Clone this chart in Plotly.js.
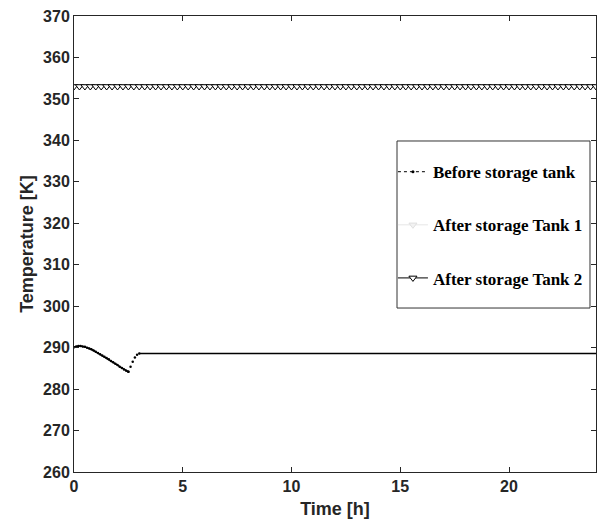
<!DOCTYPE html>
<html>
<head>
<meta charset="utf-8">
<script src="https://cdn.plot.ly/plotly-3.0.1.min.js"></script>
<style>html,body{margin:0;padding:0;background:#fff;}#chart{width:603px;height:528px;}</style>
</head>
<body>
<div id="chart"></div>
<script>
// Before storage tank (time in h, temperature in K)
const timeBefore = [0, 0.1, 0.2, 0.3, 0.4, 0.5, 0.6, 0.7, 0.8, 0.9, 1.0, 1.1, 1.2, 1.3, 1.4, 1.5, 1.6, 1.7, 1.8, 1.9, 2.0, 2.1, 2.2, 2.3, 2.4, 2.5];
const tempBefore = [290.1, 290.3, 290.4, 290.4, 290.3, 290.2, 290.0, 289.8, 289.6, 289.3, 289.0, 288.7, 288.4, 288.1, 287.8, 287.5, 287.2, 286.8, 286.5, 286.1, 285.8, 285.4, 285.1, 284.7, 284.4, 284.2];
// fast recovery segment (drawn as sparse dots)
const timeRecover = [2.5, 2.6, 2.7, 2.8, 2.9, 3.0];
const tempRecover = [284.2, 285.4, 286.6, 287.6, 288.3, 288.6];
// steady segment
const timeSteady = [3.0, 4, 5, 6, 7, 8, 9, 10, 11, 12, 13, 14, 15, 16, 17, 18, 19, 20, 21, 22, 23, 24];
const tempSteady = [288.6, 288.6, 288.6, 288.6, 288.6, 288.6, 288.6, 288.6, 288.6, 288.6, 288.6, 288.6, 288.6, 288.6, 288.6, 288.6, 288.6, 288.6, 288.6, 288.6, 288.6, 288.6];

// After storage tanks (sampled every 0.25 h)
const timeTank = [0, 0.25, 0.5, 0.75, 1, 1.25, 1.5, 1.75, 2, 2.25, 2.5, 2.75, 3, 3.25, 3.5, 3.75, 4, 4.25, 4.5, 4.75, 5, 5.25, 5.5, 5.75, 6, 6.25, 6.5, 6.75, 7, 7.25, 7.5, 7.75, 8, 8.25, 8.5, 8.75, 9, 9.25, 9.5, 9.75, 10, 10.25, 10.5, 10.75, 11, 11.25, 11.5, 11.75, 12, 12.25, 12.5, 12.75, 13, 13.25, 13.5, 13.75, 14, 14.25, 14.5, 14.75, 15, 15.25, 15.5, 15.75, 16, 16.25, 16.5, 16.75, 17, 17.25, 17.5, 17.75, 18, 18.25, 18.5, 18.75, 19, 19.25, 19.5, 19.75, 20, 20.25, 20.5, 20.75, 21, 21.25, 21.5, 21.75, 22, 22.25, 22.5, 22.75, 23, 23.25, 23.5, 23.75, 24];
const tempTank1 = [353, 353, 353, 353, 353, 353, 353, 353, 353, 353, 353, 353, 353, 353, 353, 353, 353, 353, 353, 353, 353, 353, 353, 353, 353, 353, 353, 353, 353, 353, 353, 353, 353, 353, 353, 353, 353, 353, 353, 353, 353, 353, 353, 353, 353, 353, 353, 353, 353, 353, 353, 353, 353, 353, 353, 353, 353, 353, 353, 353, 353, 353, 353, 353, 353, 353, 353, 353, 353, 353, 353, 353, 353, 353, 353, 353, 353, 353, 353, 353, 353, 353, 353, 353, 353, 353, 353, 353, 353, 353, 353, 353, 353, 353, 353, 353, 353];
const tempTank2 = [353, 353, 353, 353, 353, 353, 353, 353, 353, 353, 353, 353, 353, 353, 353, 353, 353, 353, 353, 353, 353, 353, 353, 353, 353, 353, 353, 353, 353, 353, 353, 353, 353, 353, 353, 353, 353, 353, 353, 353, 353, 353, 353, 353, 353, 353, 353, 353, 353, 353, 353, 353, 353, 353, 353, 353, 353, 353, 353, 353, 353, 353, 353, 353, 353, 353, 353, 353, 353, 353, 353, 353, 353, 353, 353, 353, 353, 353, 353, 353, 353, 353, 353, 353, 353, 353, 353, 353, 353, 353, 353, 353, 353, 353, 353, 353, 353];

const seriesNames = ['Before storage tank', 'After storage Tank 1', 'After storage Tank 2'];
const xTicks = [0, 5, 10, 15, 20];
const yTicks = [260, 270, 280, 290, 300, 310, 320, 330, 340, 350, 360, 370];

const traces = [
  {x: timeBefore, y: tempBefore, mode: 'lines+markers', showlegend: false,
   line: {color: '#000', width: 1.5}, marker: {color: '#000', size: 2.5}, hoverinfo: 'skip'},
  {x: timeRecover, y: tempRecover, mode: 'markers', showlegend: false,
   marker: {color: '#000', size: 2.5}, hoverinfo: 'skip'},
  {x: timeSteady, y: tempSteady, mode: 'lines', showlegend: false,
   line: {color: '#000', width: 1.6}, hoverinfo: 'skip'},
  // legend entry (dotted with dot marker)
  {x: [null], y: [null], name: seriesNames[0], legendgroup: 'a', mode: 'lines+markers',
   line: {color: '#000', width: 1, dash: 'dot'}, marker: {color: '#000', size: 3}},
  {x: timeTank, y: tempTank1, name: seriesNames[1], legendgroup: 'b', mode: 'lines+markers',
   line: {color: '#e6e6e6', width: 1}, marker: {symbol: 'triangle-down', size: 7, color: '#f2f2f2', line: {color: '#e0e0e0', width: 1}}},
  {x: timeTank, y: tempTank2, name: seriesNames[2], legendgroup: 'c', mode: 'lines+markers',
   line: {color: '#000', width: 1}, marker: {symbol: 'triangle-down', size: 7, color: '#fff', line: {color: '#000', width: 1}}}
];

const tickFont = {family: 'Arial, Liberation Sans, sans-serif', size: 16, color: '#262626', weight: 'bold'};
const titleFont = {family: 'Arial, Liberation Sans, sans-serif', size: 18, color: '#262626', weight: 'bold'};

const layout = {
  width: 603, height: 528,
  margin: {l: 74, r: 7, t: 16, b: 56},
  paper_bgcolor: '#fff', plot_bgcolor: '#fff',
  showlegend: true,
  xaxis: {
    range: [0, 24], tickvals: xTicks, ticktext: xTicks.map(String),
    ticks: 'inside', ticklen: 5, tickcolor: '#262626', mirror: 'ticks',
    showline: true, linecolor: '#262626', linewidth: 1, showgrid: false, zeroline: false,
    tickfont: tickFont,
    title: {text: 'Time [h]', font: titleFont, standoff: 8}
  },
  yaxis: {
    range: [260, 370], tickvals: yTicks, ticktext: yTicks.map(String),
    ticks: 'inside', ticklen: 5, tickcolor: '#262626', mirror: 'ticks',
    showline: true, linecolor: '#262626', linewidth: 1, showgrid: false, zeroline: false,
    tickfont: tickFont,
    title: {text: 'Temperature [K]', font: titleFont, standoff: 4}
  },
  shapes: [{type: 'rect', xref: 'paper', yref: 'paper',
    x0: 0.6188, x1: 0.9885, y0: 0.3596, y1: 0.7259,
    line: {color: '#333', width: 1}, fillcolor: 'rgba(0,0,0,0)', layer: 'above'}],
  legend: {
    x: 0.611, y: 0.697, xanchor: 'left', yanchor: 'top',
    borderwidth: 0, bgcolor: 'rgba(0,0,0,0)',
    font: {family: 'Liberation Serif, Times New Roman, serif', size: 17, color: '#000', weight: 'bold'},
    tracegroupgap: 28, itemwidth: 30
  }
};

Plotly.newPlot('chart', traces, layout, {staticPlot: true, displayModeBar: false});
</script>
</body>
</html>
